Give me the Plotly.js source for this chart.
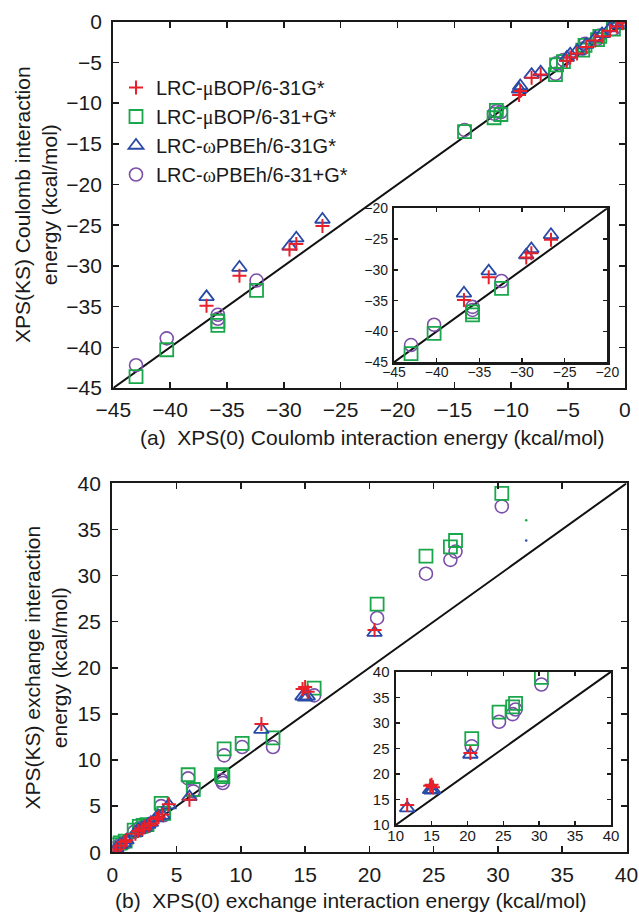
<!DOCTYPE html>
<html><head><meta charset="utf-8">
<script src="https://cdn.plot.ly/plotly-3.0.1.min.js"></script>
<style>html,body{margin:0;padding:0;background:#fff}#chart{width:639px;height:913px}</style>
</head><body><div id="chart"></div>
<script>
// ---------- Panel (a): Coulomb interaction energy (kcal/mol) ----------
const coulG_x     = [-36.8, -33.9, -29.5, -28.9, -26.6, -9.3, -9.2, -8.2, -7.4, -5.1, -4.8, -4.2, -3.4, -2.6, -2.0, -1.3, -0.7, -0.2];
const coulG_plusY = [-34.9, -31.2, -28.0, -27.3, -25.1, -9.0, -8.5, -6.9, -6.5, -4.8, -4.4, -3.9, -3.1, -2.3, -1.8, -1.1, -0.6, -0.2];
const coulG_triY  = [-33.8, -30.2, -27.6, -26.6, -24.3, -8.3, -7.9, -6.5, -6.2, -4.4, -4.0, -3.6, -2.8, -2.0, -1.5, -0.8, -0.4, -0.1];
const coulPG_x    = [-43.0, -40.3, -35.8, -35.8, -32.4, -14.1, -11.5, -11.3, -10.9, -6.1, -6.0, -5.4, -3.7, -3.5, -2.4, -2.2, -1.0, -0.1];
const coulPG_sqY  = [-43.6, -40.3, -36.8, -37.3, -33.0, -13.5, -11.8, -10.9, -11.4, -6.5, -5.3, -4.9, -3.5, -2.9, -2.2, -1.8, -0.9, -0.1];
const coulPG_cirY = [-42.2, -38.9, -36.0, -36.5, -31.8, -13.3, -11.3, -11.0, -11.1, -6.4, -5.1, -4.7, -3.3, -2.7, -2.1, -1.7, -0.9, -0.05];
const diagA = [-45, 0];
const diagAinset = [-45, -20];

// ---------- Panel (b): exchange interaction energy (kcal/mol) ----------
const exchG_x     = [0.1, 0.3, 0.6, 0.9, 1.1, 1.8, 2.0, 2.3, 2.5, 2.8, 3.0, 3.4, 3.6, 3.9, 4.4, 6.0, 11.6, 14.8, 15.0, 15.2, 20.4];
const exchG_plusY = [0.0, 0.3, 0.7, 1.1, 1.3, 2.0, 2.3, 2.5, 2.8, 2.9, 3.1, 3.6, 3.8, 4.1, 5.2, 5.7, 13.9, 17.7, 17.9, 17.4, 24.1];
const exchG_triY  = [0.1, 0.4, 0.8, 1.0, 1.3, 2.1, 2.4, 2.6, 2.7, 3.0, 3.2, 3.7, 3.9, 4.0, 5.1, 6.0, 13.3, 16.9, 16.8, 16.9, 23.8];
const exchPG_x    = [0.3, 0.6, 1.0, 1.7, 2.1, 2.4, 2.7, 3.8, 4.0, 5.9, 6.3, 8.5, 8.6, 8.7, 10.1, 12.5, 15.7, 20.6, 24.4, 26.3, 26.7, 30.3];
const exchPG_sqY  = [0.8, 1.0, 1.2, 2.4, 2.8, 2.9, 3.0, 5.3, 4.2, 8.4, 6.8, 8.4, 8.2, 11.2, 11.8, 12.4, 17.8, 26.9, 32.1, 33.1, 33.8, 38.9];
const exchPG_cirY = [0.5, 0.8, 1.0, 2.2, 2.6, 2.7, 2.8, 5.0, 4.0, 8.0, 6.6, 7.8, 7.5, 10.5, 11.4, 11.4, 17.0, 25.4, 30.2, 31.7, 32.6, 37.5];
const insetCount = 5;   // inset (b) shows the last five systems of each basis
const diagB = [0, 40];
const diagBinset = [10, 40];
const strayX = [32.2];
const strayGreenY = [36.0];
const strayBlueY = [33.8];

const names = [
  'LRC-<span style="font-family:\'Liberation Serif\'">μ</span>BOP/6-31G*',
  'LRC-<span style="font-family:\'Liberation Serif\'">μ</span>BOP/6-31+G*',
  'LRC-<span style="font-family:\'Liberation Serif\'">ω</span>PBEh/6-31G*',
  'LRC-<span style="font-family:\'Liberation Serif\'">ω</span>PBEh/6-31+G*'
];

const RED = 'rgb(232,32,42)', GREEN = 'rgb(26,166,74)', BLUE = 'rgb(42,74,168)', PURPLE = 'rgb(123,79,168)';
const style = {
  plus:   {symbol:'cross-thin-open', size:10, color:RED, line:{color:RED, width:2}},
  square: {symbol:'square-open', size:13, color:GREEN, line:{color:GREEN, width:1.8}},
  tri:    {symbol:'triangle-up-open', size:13, color:BLUE, line:{color:BLUE, width:1.8}},
  circle: {symbol:'circle-open', size:13, color:PURPLE, line:{color:PURPLE, width:1.6}}
};

function pts(x, y, mk, xa, ya, legend, name, rank) {
  return {type:'scatter', mode:'markers', x:x, y:y, xaxis:xa, yaxis:ya,
    marker:mk, name:name, showlegend:legend, legendrank:rank, hoverinfo:'skip'};
}
function line(x, xa, ya) {
  return {type:'scatter', mode:'lines', x:x, y:x, xaxis:xa, yaxis:ya,
    line:{color:'#111', width:2}, showlegend:false, hoverinfo:'skip'};
}

function set(xa, ya, gx, gp, gt, px, ps, pc, legend) {
  return [
    pts(px, pc, style.circle, xa, ya, legend, names[3], 4),
    pts(px, ps, style.square, xa, ya, legend, names[1], 2),
    pts(gx, gt, style.tri, xa, ya, legend, names[2], 3),
    pts(gx, gp, style.plus, xa, ya, legend, names[0], 1)
  ];
}

const n1 = exchG_x.length - insetCount, n2 = exchPG_x.length - insetCount;
const data = [
  line(diagA, 'x', 'y'),
  ...set('x', 'y', coulG_x, coulG_plusY, coulG_triY, coulPG_x, coulPG_sqY, coulPG_cirY, true),
  line(diagAinset, 'x2', 'y2'),
  ...set('x2', 'y2', coulG_x, coulG_plusY, coulG_triY, coulPG_x, coulPG_sqY, coulPG_cirY, false),
  line(diagB, 'x3', 'y3'),
  ...set('x3', 'y3', exchG_x, exchG_plusY, exchG_triY, exchPG_x, exchPG_sqY, exchPG_cirY, false),
  {type:'scatter', mode:'markers', x:strayX, y:strayGreenY, xaxis:'x3', yaxis:'y3', marker:{color:GREEN, size:2.5}, showlegend:false, hoverinfo:'skip'},
  {type:'scatter', mode:'markers', x:strayX, y:strayBlueY, xaxis:'x3', yaxis:'y3', marker:{color:BLUE, size:2.5}, showlegend:false, hoverinfo:'skip'},
  line(diagBinset, 'x4', 'y4'),
  ...set('x4', 'y4', exchG_x.slice(n1), exchG_plusY.slice(n1), exchG_triY.slice(n1),
         exchPG_x.slice(n2), exchPG_sqY.slice(n2), exchPG_cirY.slice(n2), false)
];

const W = 639, H = 913;
const FONT = 'Liberation Sans, Arial, Helvetica, sans-serif';
const INK = '#1a1a1a';
function ax(d0, d1, range, anchor, fs, tl, so, isY) {
  const dom = isY ? [1 - d1 / H, 1 - d0 / H] : [d0 / W, d1 / W];
  return {domain:dom, range:range, anchor:anchor, dtick:5, tick0:0, ticks:'inside', mirror:'ticks',
    showline:true, linewidth:2.2, linecolor:INK, ticklen:tl, tickwidth:1.5, tickcolor:INK,
    showgrid:false, zeroline:false, tickfont:{family:FONT, size:fs, color:INK},
    ticklabelstandoff:so, fixedrange:true};
}

const layout = {
  width:W, height:H, margin:{l:0, r:0, t:0, b:0},
  paper_bgcolor:'#fff', plot_bgcolor:'#fff',
  font:{family:FONT, color:INK, size:21},
  xaxis:  ax(113.3, 624.8, [-45, 0], 'y', 21, 6, 2, false),
  yaxis:  ax(21.7, 388, [-45, 0], 'x', 21, 6, 5, true),
  xaxis2: ax(394, 607.3, [-45, -20], 'y2', 14, 4, -4, false),
  yaxis2: ax(208.3, 362.3, [-45, -20], 'x2', 14, 4, 1, true),
  xaxis3: ax(112.3, 626.5, [0, 40], 'y3', 21, 6, 2, false),
  yaxis3: ax(483.3, 852.2, [0, 40], 'x3', 21, 6, 5, true),
  xaxis4: ax(395.7, 611, [10, 40], 'y4', 15, 4, -4, false),
  yaxis4: ax(671.7, 825, [10, 40], 'x4', 15, 4, 1, true),
  showlegend:true,
  legend:{x:116/W, y:1 - 68/H, xanchor:'left', yanchor:'top', bgcolor:'rgba(0,0,0,0)',
    font:{family:FONT, size:20, color:INK}, itemwidth:30, traceorder:'normal'},
  annotations:[
    {text:'(a)  XPS(0) Coulomb interaction energy (kcal/mol)', xref:'paper', yref:'paper',
     x:372/W, y:1 - 437/H, xanchor:'center', yanchor:'middle', showarrow:false, font:{size:21}},
    {text:'(b)  XPS(0) exchange interaction energy (kcal/mol)', xref:'paper', yref:'paper',
     x:351.5/W, y:1 - 900/H, xanchor:'center', yanchor:'middle', showarrow:false, font:{size:21}},
    {text:'XPS(KS) Coulomb interaction<br>energy (kcal/mol)', xref:'paper', yref:'paper', textangle:-90,
     x:36/W, y:1 - 205/H, xanchor:'center', yanchor:'middle', showarrow:false, font:{size:21}},
    {text:'XPS(KS) exchange interaction<br>energy (kcal/mol)', xref:'paper', yref:'paper', textangle:-90,
     x:45.5/W, y:1 - 668/H, xanchor:'center', yanchor:'middle', showarrow:false, font:{size:21}}
  ]
};

Plotly.newPlot('chart', data, layout, {staticPlot:true, displayModeBar:false});
</script></body></html>
